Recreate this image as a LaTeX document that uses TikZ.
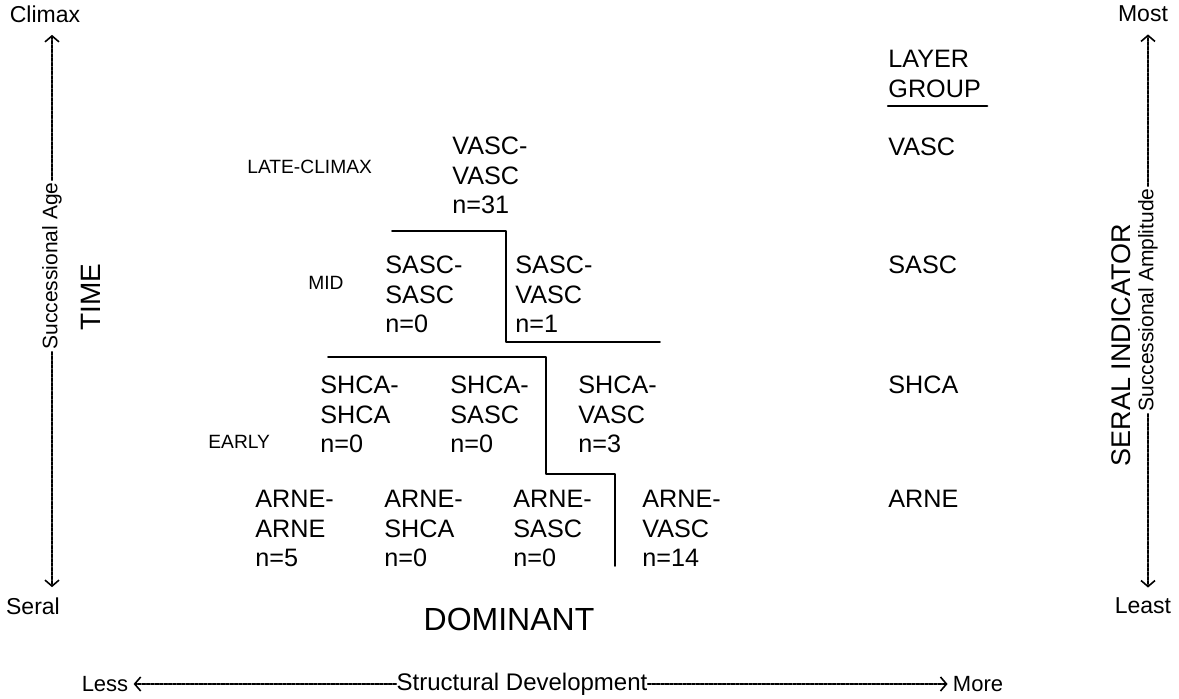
\documentclass[tikz,border=0pt]{standalone}
\usepackage{fontspec}
\setmainfont{Liberation Sans}
\usetikzlibrary{arrows.meta}
\begin{document}
\begin{tikzpicture}[x=0.5pt,y=-0.5pt,line cap=round,line join=round]
	\tikzset{cell/.style={anchor=north west,inner sep=0pt,align=left,font=\fontsize{12.6}{14.75}\selectfont},
		stage/.style={anchor=west,inner sep=0pt,font=\fontsize{9.6}{11}\selectfont},
		tag/.style={inner sep=0pt,font=\fontsize{11.5}{13}\selectfont},
		axislbl/.style={rotate=90,inner sep=1pt,font=\fontsize{10.5}{12}\selectfont},
		title/.style={rotate=90,inner sep=0pt,font=\fontsize{14}{16}\selectfont},
		axis/.style={line width=0.8pt,dash pattern=on 1.6pt off 0.6pt,-{Straight Barb[length=3pt,width=7pt,line width=0.8pt]}},
		wall/.style={line width=0.9pt}}
	\useasboundingbox (0,0) rectangle (1179,699);
	% time axis
	\node[tag] (climax) at (45,14) {Climax};
	\node[tag] (seral) at (33,606) {Seral};
	\node[axislbl] (agelbl) at (52,266) {Successional Age};
	\node[title] (time) at (91,297) {TIME};
	\draw[axis,shorten >=6pt] (agelbl.east) -- (agelbl.east |- climax.south);
	\draw[axis,shorten >=5pt] (agelbl.west) -- (agelbl.west |- seral.north);
	% seral axis
	\node[tag] (most) at (1143,14) {Most};
	\node[tag] (least) at (1143,606) {Least};
	\node[axislbl] (amplbl) at (1148,300) {Successional Amplitude};
	\node[title,font=\fontsize{13.5}{16}\selectfont] (seralind) at (1121,345) {SERAL INDICATOR};
	\draw[axis,shorten >=6pt] (amplbl.east) -- (amplbl.east |- most.south);
	\draw[axis,shorten >=5pt] (amplbl.west) -- (amplbl.west |- least.north);
	% stages
	\node[stage] (late) at (247,167) {LATE-CLIMAX};
	\node[stage] (mid) at (308,283) {MID};
	\node[stage] (early) at (208,442) {EARLY};
	% cells
	\node[cell] (vv) at (452,137) {VASC-\\VASC\\n=31};
	\node[cell] (ss) at (385,256) {SASC-\\SASC\\n=0};
	\node[cell] (sv) at (515,256) {SASC-\\VASC\\n=1};
	\node[cell] (hh) at (320,376) {SHCA-\\SHCA\\n=0};
	\node[cell] (hs) at (450,376) {SHCA-\\SASC\\n=0};
	\node[cell] (hv) at (578,376) {SHCA-\\VASC\\n=3};
	\node[cell] (aa) at (255,490) {ARNE-\\ARNE\\n=5};
	\node[cell] (ah) at (384,490) {ARNE-\\SHCA\\n=0};
	\node[cell] (as) at (513,490) {ARNE-\\SASC\\n=0};
	\node[cell] (av) at (642,490) {ARNE-\\VASC\\n=14};
	\draw[wall] (392,231) -| (506,342) -- (660,342);
	\draw[wall] (328,357) -| (546,474) -| (615,566);
	% layer group
	\node[cell] (layer) at (888,50) {LAYER};
	\node[cell] (group) at (888,80) {GROUP};
	\draw[line width=1.1pt] ([yshift=-3.5pt]group.south west) -- ([yshift=-3.5pt,xshift=3pt]group.south east);
	\node[cell] (lv) at (888,138) {VASC};
	\node[cell] (ls) at (888,256) {SASC};
	\node[cell] (lh) at (888,376) {SHCA};
	\node[cell] (la) at (888,490) {ARNE};
	\node[inner sep=0pt,font=\fontsize{16}{18}\selectfont] (dom) at (509,619) {DOMINANT};
	% structural development
	\node[tag,font=\fontsize{11}{13}\selectfont] (less) at (105,684) {Less};
	\node[tag,font=\fontsize{12}{14}\selectfont] (sdev) at (522,684) {Structural Development};
	\node[tag,font=\fontsize{11}{13}\selectfont] (more) at (978,684) {More};
	\draw[axis,shorten >=2.5pt] (sdev.west) -- (less.east);
	\draw[axis,shorten >=2.5pt] (sdev.east) -- (more.west);
\end{tikzpicture}
\end{document}
